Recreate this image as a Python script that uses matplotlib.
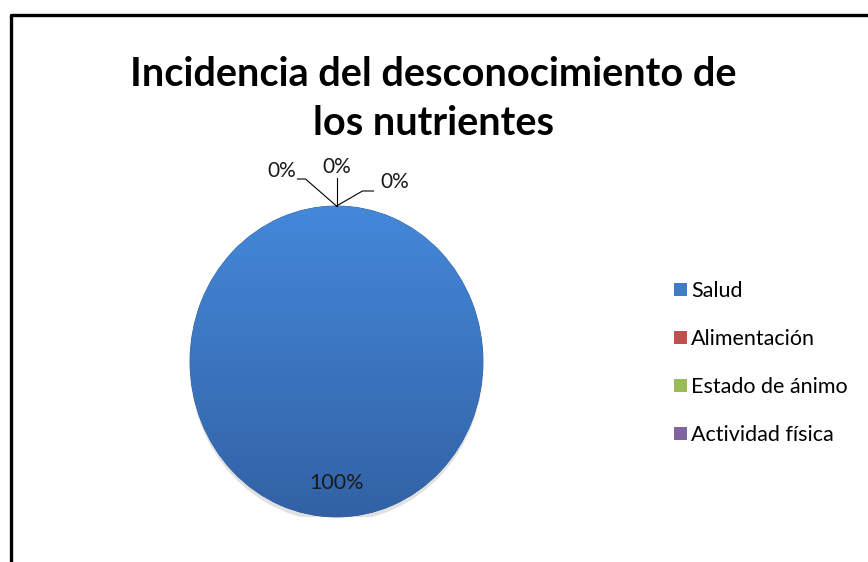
import numpy as np
import matplotlib
matplotlib.use('Agg')
import matplotlib.pyplot as plt
from matplotlib.lines import Line2D
from matplotlib.patches import Ellipse, Patch

categorias = ['Salud', 'Alimentación', 'Estado de ánimo', 'Actividad física']
valores = [100, 0, 0, 0]
colores = ['#3E7CC9', '#C0504D', '#9BBB59', '#8064A2']

plt.rcParams['font.family'] = ['Lato', 'DejaVu Sans']

fig = plt.figure(figsize=(8.68, 5.62), dpi=100)
W, H = 868, 562

# marco del grafico (solo borde izquierdo y superior visibles)
fig.add_artist(Line2D([11 / W, 11 / W, 1], [0, 1 - 15 / H, 1 - 15 / H],
                      transform=fig.transFigure, color='black', lw=2.4))

fig.text(0.499, 1 - 99 / H, 'Incidencia del desconocimiento de\nlos nutrientes',
         ha='center', va='center', fontsize=28.5, fontweight='bold', linespacing=1.42)

ax = fig.add_axes([190 / W, 45 / H, 293 / W, 311 / H])
ax.add_patch(Ellipse((0.0, -0.03), 2.0, 2.0, color='#888888', alpha=0.25, lw=0))
wedges, _ = ax.pie(valores, colors=colores, startangle=90, counterclock=False,
                   wedgeprops=dict(edgecolor='#2F5C99', linewidth=0.6))
ax.set_xlim(-1, 1)
ax.set_ylim(-1, 1)
ax.set_aspect('auto')

# degradado del sector principal
top = np.array([0x44, 0x88, 0xDA]) / 255
bot = np.array([0x32, 0x62, 0xA5]) / 255
t = np.linspace(0, 1, 256)[:, None, None]
grad = top * (1 - t) + bot * t
img = ax.imshow(grad, extent=(-1, 1, -1, 1), aspect='auto', zorder=3, origin='upper')
img.set_clip_path(wedges[0])

# etiquetas de porcentaje
total = sum(valores)
pcts = ['%d%%' % round(v * 100 / total) for v in valores]
ax.text(0, -0.78, pcts[0], ha='center', va='center',
        fontsize=15.5, color='#1a1a1a', zorder=5)

fig.canvas.draw()
p0 = ax.transData.transform((np.cos(np.deg2rad(wedges[1].theta1)),
                             np.sin(np.deg2rad(wedges[1].theta1))))
# (codo, final de linea, posicion del texto) en pixeles relativos al punto
guias = [((-31, 27), (-39, 27), (-55, 35)),
         ((0, 28), (0, 28), (0, 39)),
         ((26, 15), (37, 15), (58, 24))]
for pct, (codo, fin, txt) in zip(pcts[1:], guias):
    xs = [p0[0], p0[0] + codo[0], p0[0] + fin[0]]
    ys = [p0[1], p0[1] + codo[1], p0[1] + fin[1]]
    fig.add_artist(Line2D(np.array(xs) / W, np.array(ys) / H, transform=fig.transFigure,
                          color='black', lw=0.8))
    fig.text((p0[0] + txt[0]) / W, (p0[1] + txt[1]) / H, pct, ha='center', va='center',
             fontsize=15, color='#1a1a1a')

handles = [Patch(facecolor=c, edgecolor='none') for c in colores]
fig.legend(handles, categorias, loc='center left', bbox_to_anchor=(674 / W, 1 - 363 / H),
           frameon=False, fontsize=15.5, handlelength=0.6, handleheight=0.6,
           handletextpad=0.2, labelspacing=1.3, borderaxespad=0, borderpad=0)

fig.savefig('out.png', dpi=100)
